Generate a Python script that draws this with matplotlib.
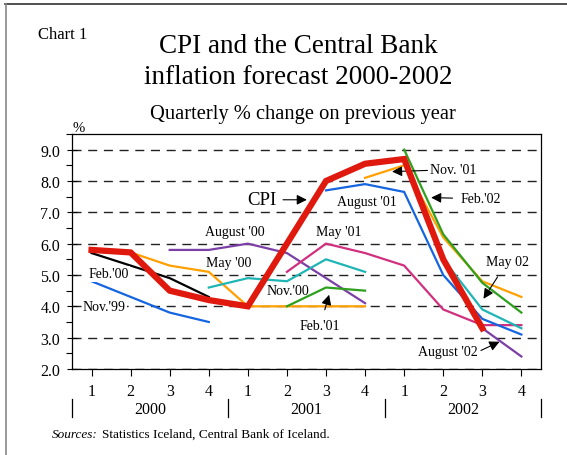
import numpy as np
import matplotlib
matplotlib.use("Agg")
import matplotlib.pyplot as plt
from matplotlib.lines import Line2D
from matplotlib.ticker import MultipleLocator

plt.rcParams['font.family'] = ['Liberation Serif', 'DejaVu Serif']

nan = np.nan
quarters = ['1', '2', '3', '4'] * 3
years = ['2000', '2001', '2002']

# values per quarter, Q1 2000 .. Q4 2002
cpi    = [5.8, 5.72, 4.5, 4.2, 4.0, 6.0, 8.0, 8.55, 8.7, 5.5, 3.3, nan]
nov99  = [4.8, 4.3, 3.8, 3.5, nan, nan, nan, nan, nan, nan, nan, nan]
feb00  = [5.7, 5.3, 4.9, 4.3, nan, nan, nan, nan, nan, nan, nan, nan]
may00  = [nan, 5.72, 5.3, 5.1, 4.0, 4.0, 4.0, 4.0, nan, nan, nan, nan]
aug00  = [nan, nan, 5.8, 5.8, 6.0, 5.7, 4.9, 4.1, nan, nan, nan, nan]
nov00  = [nan, nan, nan, 4.6, 4.9, 4.8, 5.5, 5.1, nan, nan, nan, nan]
feb01  = [nan, nan, nan, nan, nan, 4.0, 4.6, 4.5, nan, nan, nan, nan]
may01  = [nan, nan, nan, nan, nan, 5.1, 6.0, 5.7, 5.3, 3.9, 3.4, 3.4]
aug01  = [nan, nan, nan, nan, nan, nan, 7.7, 7.9, 7.65, 5.0, 3.6, 3.1]
nov01  = [nan, nan, nan, nan, nan, nan, nan, 8.1, 8.5, 6.2, 4.8, 4.3]
feb02  = [nan, nan, nan, nan, nan, nan, nan, nan, 9.0, 6.3, 4.75, 3.8]
may02  = [nan, nan, nan, nan, nan, nan, nan, nan, nan, 5.5, 3.9, 3.3]
aug02  = [nan, nan, nan, nan, nan, nan, nan, nan, nan, nan, 3.3, 2.4]

blue, orange, purple = '#1565e0', '#ffa000', '#7b3fa6'
teal, green, magenta = '#1fb5b5', '#2ea01e', '#d0307e'
forecasts = [
    (nov99, blue), (feb00, 'black'), (may00, orange), (aug00, purple),
    (nov00, teal), (feb01, green), (may01, magenta), (aug01, blue),
    (nov01, orange), (feb02, green), (may02, teal), (aug02, purple),
]

x = np.arange(12)

fig = plt.figure(figsize=(5.67, 4.56), dpi=100)
ax = fig.add_axes([0.127, 0.1886, 0.827, 0.5154])

for vals, col in forecasts:
    ax.plot(x, vals, color=col, lw=1.6, solid_joinstyle='miter', zorder=3)
ax.plot(x, cpi, color='#e0190f', lw=4.5, solid_joinstyle='miter', zorder=4)

ax.set_xlim(-0.5, 11.5)
ax.set_ylim(2.0, 9.5)
ax.set_yticks(np.arange(2, 10, 1.0))
ax.set_yticklabels([f'{v:.1f}' for v in np.arange(2, 10, 1.0)], fontsize=11.5)
ax.yaxis.set_minor_locator(MultipleLocator(0.5))
ax.set_xticks(x)
ax.set_xticklabels(quarters, fontsize=11.5)
ax.tick_params(axis='y', which='major', direction='inout', length=7, width=0.8, pad=5)
ax.tick_params(axis='y', which='minor', direction='out', length=4, width=0.8)
ax.tick_params(axis='x', direction='out', length=5, width=0.8, pad=5)
ax.grid(axis='y', color='#222222', lw=1.0, linestyle=(0, (6.5, 4.8)), zorder=1)
for s in ax.spines.values():
    s.set_linewidth(0.9)

# year separators and labels
for xv in [-0.5, 3.5, 7.5, 11.5]:
    ax.plot([xv, xv], [-0.128, -0.204], color='black', lw=0.9, clip_on=False,
            transform=ax.get_xaxis_transform())
for i, yr in enumerate(years):
    ax.text(1.5 + 4 * i, -0.17, yr, fontsize=11.5, ha='center', va='center',
            transform=ax.get_xaxis_transform())

# series labels
fs = 10
lab = dict(fontsize=fs, ha='center', va='center', zorder=5)
ax.text(0.44, 5.04, "Feb.'00", bbox=dict(fc='white', ec='none', pad=1.0), **lab)
ax.text(0.33, 3.98, "Nov.'99", bbox=dict(fc='white', ec='none', pad=1.0), **lab)
ax.text(3.51, 5.39, "May '00", **lab)
ax.text(3.67, 6.38, "August '00", **lab)
ax.text(5.03, 4.50, "Nov.'00", **lab)
ax.text(6.33, 6.38, "May '01", **lab)
ax.text(7.05, 7.34, "August '01", **lab)
ax.text(4.36, 7.40, "CPI", fontsize=13.5, ha='center', va='center')

arr = dict(arrowstyle='-|>', color='black', lw=0.8, mutation_scale=15,
           shrinkA=0, shrinkB=0)
ax.annotate('', xy=(5.51, 7.40), xytext=(4.90, 7.40), arrowprops=arr)
ax.annotate("Nov. '01", xy=(7.69, 8.30), xytext=(9.26, 8.36), fontsize=fs,
            ha='center', va='center', arrowprops=dict(arr, relpos=(0, 0.45)))
ax.annotate("Feb.'02", xy=(8.69, 7.47), xytext=(9.97, 7.43), fontsize=fs,
            ha='center', va='center',
            arrowprops=dict(arr, shrinkA=4))
ax.annotate("May 02", xy=(10.03, 4.24), xytext=(10.64, 5.42), fontsize=fs,
            ha='center', va='center', arrowprops=dict(arr, shrinkA=5))
ax.annotate("August '02", xy=(10.44, 2.87), xytext=(9.13, 2.55), fontsize=fs,
            ha='center', va='center', arrowprops=dict(arr, relpos=(1, 0.5)))
ax.annotate("Feb.'01", xy=(6.08, 4.37), xytext=(5.85, 3.38), fontsize=fs,
            ha='center', va='center', arrowprops=dict(arr, shrinkA=5))

# titles
fig.text(0.067, 0.923, 'Chart 1', fontsize=12, ha='left', va='center')
fig.text(0.526, 0.897, 'CPI and the Central Bank', fontsize=19.5, ha='center', va='center')
fig.text(0.526, 0.831, 'inflation forecast 2000-2002', fontsize=19.5, ha='center', va='center')
fig.text(0.534, 0.750, 'Quarterly % change on previous year', fontsize=14.8,
         ha='center', va='center')
fig.text(0.138, 0.719, '%', fontsize=10.5, ha='center', va='center')

t1 = fig.text(0.092, 0.046, 'Sources:', fontsize=9.5, style='italic', va='center')
ax.annotate('Statistics Iceland, Central Bank of Iceland.', xy=(1, 0.5),
            xytext=(3, 0), textcoords='offset points',
            xycoords=t1, fontsize=9.5, va='center', ha='left', annotation_clip=False)

# frame lines on the figure
fig.add_artist(Line2D([0.009, 1.0], [0.990, 0.990], color='#333333', lw=1.2,
                      transform=fig.transFigure))
fig.add_artist(Line2D([0.011, 0.011], [0.0, 0.990], color='#888888', lw=1.2,
                      transform=fig.transFigure))

fig.savefig('out.png', dpi=100)
